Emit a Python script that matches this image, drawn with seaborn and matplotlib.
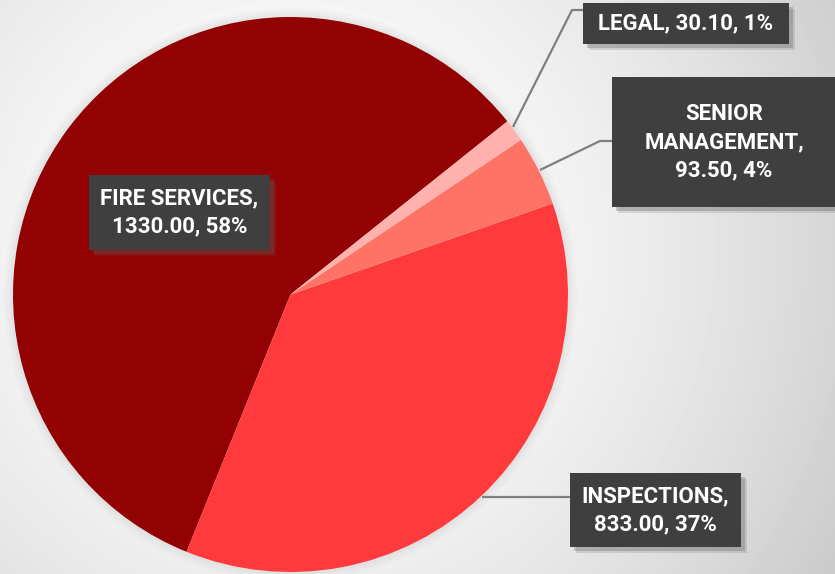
import numpy as np
import matplotlib
matplotlib.use("Agg")
import matplotlib.pyplot as plt
from matplotlib.patches import Rectangle, Circle
import seaborn as sns

# data
categories = ["FIRE SERVICES", "INSPECTIONS", "SENIOR MANAGEMENT", "LEGAL"]
values = [1330.00, 833.00, 93.50, 30.10]
pct_labels = [58, 37, 4, 1]

colors = ["#930202", "#FF3A3D", "#FF7367", "#FFB1AE"]

W, H = 835, 574

sns.set_theme(style="white")
plt.rcParams["font.family"] = ["Roboto", "DejaVu Sans"]


def py(y):
    # image pixel y (top-down) -> axes y (bottom-up)
    return H - y


fig = plt.figure(figsize=(W / 100, H / 100), dpi=100)
ax = fig.add_axes([0, 0, 1, 1])

# soft radial background
gx, gy = np.meshgrid(np.arange(W), np.arange(H))
d = np.hypot(gx - 290, gy - 250) / 600.0
bg = np.clip(1.0 - 0.19 * d ** 1.7, 0, 1)
ax.imshow(bg, cmap="gray", vmin=0, vmax=1, extent=[0, W, 0, H],
          origin="upper", zorder=0, aspect="auto")

cx, cy, r = 290.5, py(294.5), 277.5

# halo behind the pie
for k, a in [(9, 0.03), (6, 0.04), (3, 0.06)]:
    ax.add_patch(Circle((cx, cy), r + k, color="#888888", alpha=a, lw=0, zorder=1))

ax.pie(values, colors=colors, startangle=38.6, counterclock=True,
       center=(cx, cy), radius=r, frame=True,
       wedgeprops=dict(linewidth=0, zorder=2))

# label boxes (x0, y0, x1, y1 in image pixels) and leader lines
boxes = {
    "FIRE SERVICES": (89, 175, 270, 250),
    "INSPECTIONS": (570, 473, 741, 547),
    "SENIOR MANAGEMENT": (612, 77, 836, 207),
    "LEGAL": (583, 3, 789, 44),
}
leaders = {
    "INSPECTIONS": [(482, 497), (570, 497)],
    "SENIOR MANAGEMENT": [(540, 170), (600, 141), (612, 141)],
    "LEGAL": [(513, 127), (572, 10), (583, 10)],
}
texts = {
    "FIRE SERVICES": "FIRE SERVICES,\n{v:.2f}, {p}%",
    "INSPECTIONS": "INSPECTIONS,\n{v:.2f}, {p}%",
    "SENIOR MANAGEMENT": "SENIOR\nMANAGEMENT,\n{v:.2f}, {p}%",
    "LEGAL": "LEGAL, {v:.2f}, {p}%",
}

for name, pts in leaders.items():
    xs = [p[0] for p in pts]
    ys = [py(p[1]) for p in pts]
    ax.plot(xs, ys, color="#7f7f7f", lw=1.6, zorder=3, solid_capstyle="butt")

for name, v, p in zip(categories, values, pct_labels):
    x0, y0, x1, y1 = boxes[name]
    # shadow
    for off, a in [(6, 0.18), (4, 0.3)]:
        ax.add_patch(Rectangle((x0 + off, py(y1) - off), x1 - x0, y1 - y0,
                               color="#606060", alpha=a, lw=0, zorder=4))
    ax.add_patch(Rectangle((x0, py(y1)), x1 - x0, y1 - y0,
                           color="#3f3f3f", lw=0, zorder=5))
    ax.text((x0 + x1) / 2, py((y0 + y1) / 2), texts[name].format(v=v, p=p),
            ha="center", va="center", color="white", fontsize=16,
            fontweight="bold", linespacing=1.35, zorder=6)

ax.set_xlim(0, W)
ax.set_ylim(0, H)
ax.set_axis_off()

fig.savefig("out.png", dpi=100)
